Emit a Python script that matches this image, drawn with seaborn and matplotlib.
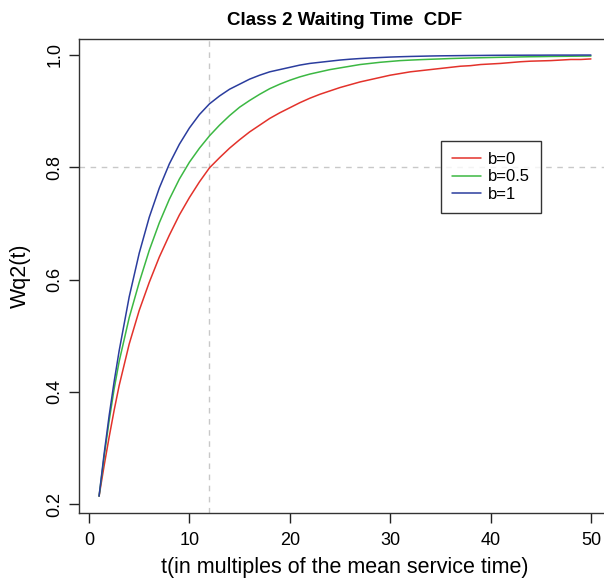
import matplotlib
matplotlib.use("Agg")
import matplotlib.pyplot as plt
from matplotlib.lines import Line2D
import seaborn as sns
import pandas as pd

t_values = [1, 1.5, 2, 2.5, 3, 4, 5, 6, 7, 8, 9, 10, 11, 12, 13, 14, 15, 16, 17, 18, 19, 20,
            21, 22, 23, 24, 25, 26, 27, 28, 29, 30, 31, 32, 33, 34, 35, 36, 37, 38, 39, 40,
            41, 42, 43, 44, 45, 46, 47, 48, 49, 50]

wq2_b0 = [0.214, 0.268, 0.319, 0.367, 0.411, 0.485, 0.545, 0.595, 0.640, 0.679, 0.715, 0.746,
          0.774, 0.799, 0.817, 0.834, 0.849, 0.863, 0.875, 0.887, 0.897, 0.906, 0.915, 0.923,
          0.930, 0.936, 0.942, 0.947, 0.952, 0.956, 0.960, 0.964, 0.967, 0.970, 0.972, 0.974,
          0.976, 0.978, 0.980, 0.981, 0.983, 0.984, 0.985, 0.9865, 0.988, 0.989, 0.9895, 0.990,
          0.991, 0.992, 0.992, 0.993]

wq2_b05 = [0.214, 0.284, 0.348, 0.405, 0.454, 0.532, 0.595, 0.652, 0.701, 0.743, 0.779, 0.809,
           0.834, 0.856, 0.875, 0.892, 0.907, 0.919, 0.930, 0.940, 0.948, 0.955, 0.961, 0.966,
           0.970, 0.974, 0.977, 0.980, 0.983, 0.985, 0.987, 0.9885, 0.990, 0.9909, 0.9917,
           0.9924, 0.993, 0.9937, 0.9942, 0.9947, 0.9951, 0.9955, 0.9959, 0.9962, 0.9966,
           0.9969, 0.9971, 0.9974, 0.9976, 0.9978, 0.998, 0.9982]

wq2_b1 = [0.214, 0.289, 0.357, 0.418, 0.473, 0.569, 0.647, 0.711, 0.763, 0.806, 0.841, 0.870,
          0.894, 0.913, 0.927, 0.939, 0.948, 0.957, 0.964, 0.970, 0.974, 0.978, 0.982, 0.985,
          0.987, 0.989, 0.991, 0.9925, 0.9937, 0.9947, 0.9955, 0.9963, 0.9969, 0.9974, 0.9978,
          0.9982, 0.9985, 0.9987, 0.9989, 0.9991, 0.9992, 0.9994, 0.9995, 0.9996, 0.9996,
          0.9997, 0.9997, 0.9998, 0.9998, 0.9998, 0.9999, 0.9999]

series_labels = ["b=0", "b=0.5", "b=1"]
series_colors = ["#E3322B", "#3CB843", "#2B3D9E"]
x_ticks = [0, 10, 20, 30, 40, 50]
y_ticks = [0.2, 0.4, 0.6, 0.8, 1.0]
ref_t = 12
ref_w = 0.8

df = pd.DataFrame({
    "t": t_values * 3,
    "Wq2": wq2_b0 + wq2_b05 + wq2_b1,
    "b": [series_labels[0]] * len(t_values) + [series_labels[1]] * len(t_values)
         + [series_labels[2]] * len(t_values),
})

sns.set_style("white")
plt.rcParams["font.family"] = ["Liberation Sans", "DejaVu Sans"]
plt.rcParams["text.color"] = "black"
plt.rcParams["axes.labelcolor"] = "black"
plt.rcParams["xtick.color"] = "black"
plt.rcParams["ytick.color"] = "black"

W, H = 604, 584
fig = plt.figure(figsize=(W / 100, H / 100), dpi=100)
ax = fig.add_axes([79.4 / W, (H - 513) / H, 531.2 / W, 474 / H])

ax.axvline(ref_t, color="#c8c8c8", lw=1.0, ls=(0, (4, 4)), zorder=1)
ax.axhline(ref_w, color="#c8c8c8", lw=1.0, ls=(0, (4, 4)), zorder=1)

sns.lineplot(data=df, x="t", y="Wq2", hue="b", palette=series_colors,
             hue_order=series_labels, lw=1.1, ax=ax, legend=False, zorder=3)

ax.set_xlim(-0.96, 51.96)
ax.set_ylim(0.184, 1.0285)
ax.set_xticks(x_ticks)
ax.set_xticklabels([str(v) for v in x_ticks])
ax.set_yticks(y_ticks)
ax.set_yticklabels([f"{v:.1f}" for v in y_ticks], rotation=90, va="center")

ax.tick_params(axis="both", which="major", direction="out", length=7.5, width=1.0,
               color="#222222", labelsize=13, left=True, bottom=True)
ax.tick_params(axis="x", pad=6)
ax.tick_params(axis="y", pad=4)
for s in ax.spines.values():
    s.set_color("#333333")
    s.set_linewidth(1.0)

ax.set_xlabel("t(in multiples of the mean service time)", fontsize=15.5, labelpad=6)
ax.set_ylabel("Wq2(t)", fontsize=15.5, labelpad=11)
ax.set_title("Class 2 Waiting Time  CDF", fontsize=13.5, fontweight="bold", pad=10)

handles = [Line2D([0], [0], color=c, lw=1.1) for c in series_colors]
leg = ax.legend(handles, series_labels, loc="upper left",
                bbox_to_anchor=(441 / W, 1 - 141 / H), bbox_transform=fig.transFigure,
                borderaxespad=0, fontsize=12, frameon=True, fancybox=False,
                handlelength=1.75, handletextpad=0.42, labelspacing=0.15,
                borderpad=0.65)
leg.get_frame().set_edgecolor("black")
leg.get_frame().set_linewidth(1.0)

fig.savefig("out.png", dpi=100)
